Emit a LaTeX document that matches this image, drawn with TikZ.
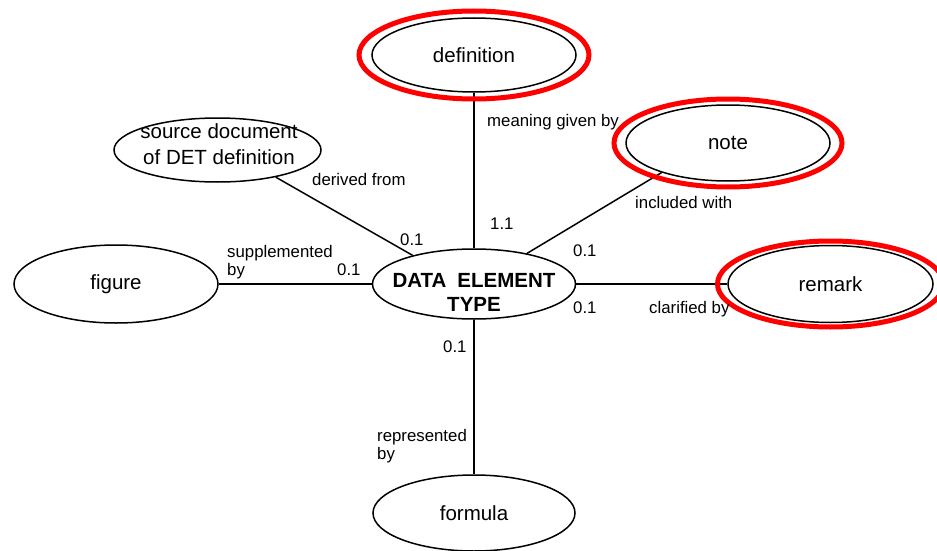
\documentclass[tikz,border=0pt]{standalone}
\usepackage{fontspec}
\setmainfont{Liberation Sans}
\usetikzlibrary{shapes.geometric}
\begin{document}
\begin{tikzpicture}[x=1pt,y=-1pt,
  ent/.style={ellipse, draw, line width=1.5pt, inner sep=0pt, font=\fontsize{20.5}{26}\selectfont},
  ring/.style={ellipse, draw=red, line width=5pt, inner sep=0pt},
  conn/.style={line width=1.5pt},
  txt/.style={inner sep=0pt, align=center, font=\fontsize{20.5}{26}\selectfont},
  lbl/.style={anchor=base west, inner sep=0pt, font=\fontsize{16.8}{18}\selectfont},
  lbl2/.style={anchor=north west, inner sep=0pt, align=left, font=\fontsize{16.8}{18}\selectfont}]
\useasboundingbox (0,0) rectangle (937,551);
% entities
\node[ent, minimum width=204pt, minimum height=74pt] (def) at (474,55) {definition};
\node[ent, minimum width=204pt, minimum height=76pt] (note) at (728,143) {note};
\node[ent, minimum width=205pt, minimum height=77pt] (rem) at (830.5,284) {remark};
\node[ent, minimum width=203pt, minimum height=70pt] (det) at (474,284) {};
\node[txt, font=\fontsize{20.5}{24}\selectfont\bfseries] (dettxt) at (474,292) {DATA\hspace{11pt}ELEMENT\\TYPE};
\node[ent, minimum width=207pt, minimum height=64pt] (src) at (217.5,150) {};
\node[txt] (srctxt) at (219,144) {source document\\of DET definition};
\node[ent, minimum width=204pt, minimum height=78pt] (fig) at (116,284) {figure};
\node[ent, minimum width=202pt, minimum height=76pt] (form) at (474,513) {formula};
% connectors
\draw[conn] (def) -- (det);
\draw[conn] (det) -- (form);
\draw[conn] (det) -- (fig);
\draw[conn] (det) -- (rem);
\draw[conn] (src.-25) -- (det.155);
\draw[conn] (det.30) -- (note.204);
% red rings
\node[ring, minimum width=230pt, minimum height=88pt] (defring) at (def.center) {};
\node[ring, minimum width=228pt, minimum height=88pt] (notering) at (note.center) {};
\node[ring, minimum width=226pt, minimum height=86pt] (remring) at (rem.center) {};
% labels
\node[lbl] (l1) at (487,126) {meaning given by};
\node[lbl] (l2) at (490,229) {1.1};
\node[lbl] (l3) at (312,185) {derived from};
\node[lbl] (l4) at (400,245) {0.1};
\node[lbl] (l5) at (635,208) {included with};
\node[lbl] (l6) at (573,256) {0.1};
\node[lbl2] (l7) at (227,245) {supplemented\\by};
\node[lbl] (l8) at (337,275) {0.1};
\node[lbl] (l9) at (573,313) {0.1};
\node[lbl] (l10) at (649,313) {clarified by};
\node[lbl] (l11) at (443,352) {0.1};
\node[lbl2] (l12) at (377,429) {represented\\by};
\end{tikzpicture}
\end{document}
